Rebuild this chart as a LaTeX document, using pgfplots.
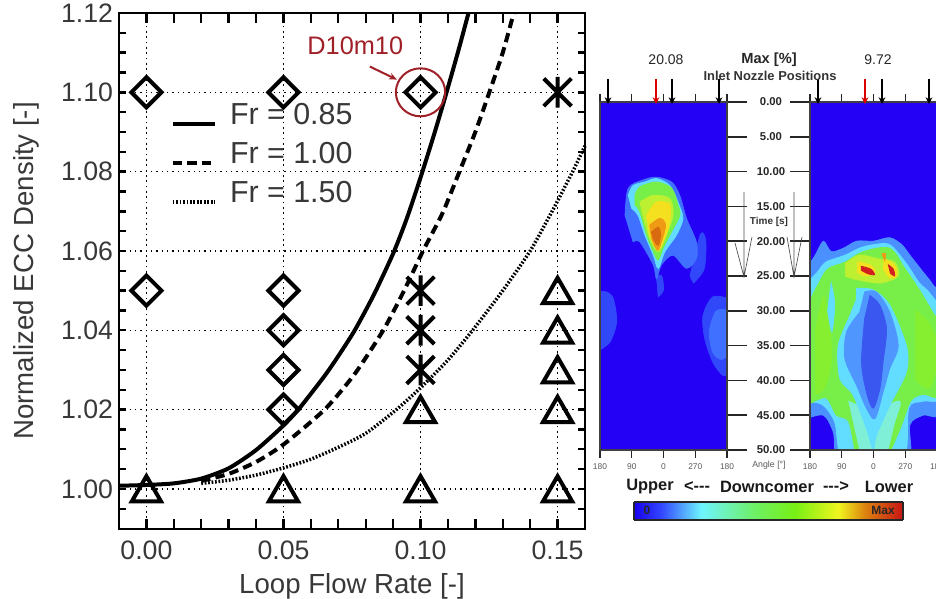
\documentclass[border=0pt]{standalone}
\usepackage{fontspec}
\setmainfont{Liberation Sans}
\usepackage{pgfplots}
\pgfplotsset{compat=1.18}
\usetikzlibrary{arrows.meta,plotmarks}
\definecolor{dred}{HTML}{A02028}
\definecolor{tgray}{HTML}{383838}
\definecolor{hbg}{HTML}{2400F4}
\definecolor{hHalo}{HTML}{3F70FF}
\definecolor{hHaloD}{HTML}{3048FA}
\definecolor{hHaloL}{HTML}{4A90FF}
\definecolor{hCyan}{HTML}{62DCFF}
\definecolor{hCyanG}{HTML}{7FEFD8}
\definecolor{hGreen}{HTML}{78EE48}
\definecolor{hGreenB}{HTML}{86F030}
\definecolor{hGY}{HTML}{BDF030}
\definecolor{hYel}{HTML}{F5E020}
\definecolor{hOr}{HTML}{EE9A15}
\definecolor{hOrD}{HTML}{D86A10}
\definecolor{hRed}{HTML}{D02020}
\definecolor{hCore}{HTML}{3A58F0}
\definecolor{hLB}{HTML}{5096FF}
\pgfdeclareplotmark{myast}{%
  \pgfpathmoveto{\pgfqpoint{0pt}{\pgfplotmarksize}}\pgfpathlineto{\pgfqpoint{0pt}{-\pgfplotmarksize}}%
  \pgfpathmoveto{\pgfqpoint{0.9\pgfplotmarksize}{0.9\pgfplotmarksize}}\pgfpathlineto{\pgfqpoint{-0.9\pgfplotmarksize}{-0.9\pgfplotmarksize}}%
  \pgfpathmoveto{\pgfqpoint{-0.9\pgfplotmarksize}{0.9\pgfplotmarksize}}\pgfpathlineto{\pgfqpoint{0.9\pgfplotmarksize}{-0.9\pgfplotmarksize}}%
  \pgfusepathqstroke}
\pgfplotsset{
  colormap={hm}{rgb255(0pt)=(24,0,240); rgb255(10pt)=(50,70,255); rgb255(25pt)=(110,245,255); rgb255(45pt)=(110,240,100); rgb255(60pt)=(120,240,20); rgb255(76pt)=(240,245,30); rgb255(86pt)=(220,130,15); rgb255(100pt)=(200,20,20)},
  heat/.style={
    scale only axis, width=95.25pt, height=261pt,
    xmin=0,xmax=360,ymin=0,ymax=50,y dir=reverse,
    axis on top, clip=true,
    axis line style={line width=1pt,color=black!75},
    axis background/.style={fill=hbg},
    xtick={0,90,180,270,360},
    minor xtick={0,90,180,270,360},
    xticklabels={180,90,0,270,180},
    ytick={0,5,...,50},
    tick align=outside,
    major tick length=15pt,
    minor tick length=6pt,
    tick style={black!85,line width=1.1pt},
    x tick style={draw=none},
    minor x tick style={draw=black!85,line width=1.1pt},
    xticklabel style={font=\fontsize{6.3}{7}\selectfont\color{black!65},yshift=8pt},
  },
  frame/.style={
    at={(89.25pt,52.8pt)},anchor=south west,
    scale only axis,width=349.5pt,height=386.7pt,
    xmin=-0.01,xmax=0.16,ymin=0.99,ymax=1.12,
  },
}
\newcommand{\hp}[2]{\addplot[draw=#1,line width=.6pt,fill=#1,smooth,forget plot] coordinates {#2} --cycle;}
\begin{document}
\begin{tikzpicture}
\path[use as bounding box] (0,0) rectangle (702pt,449.25pt);
\clip (0,0) rectangle (702pt,449.25pt);

% ---------- grid of the main chart
\begin{axis}[frame,
  xtick={0,0.05,0.10,0.15},
  ytick={1.00,1.02,1.04,1.06,1.08,1.10,1.12},
  xticklabels={},yticklabels={},
  major tick length=0pt,
  axis line style={draw=none},
  grid=major,
  major grid style={black,line width=1.1pt,dash pattern=on 1.1pt off 2.9pt},
]
\end{axis}

% ---------- main chart
\begin{axis}[frame,
  xtick={0,0.05,0.10,0.15},
  ytick={1.00,1.02,1.04,1.06,1.08,1.10,1.12},
  tick align=inside,
  axis on top,
  major tick length=0pt,
  axis line style={line width=1.5pt,black},
  /pgf/number format/assume math mode=true,
  /pgf/number format/fixed,/pgf/number format/fixed zerofill,/pgf/number format/precision=2,
  ticklabel style={font=\fontsize{20}{24}\selectfont,text=tgray},
  xticklabel style={yshift=-6pt},
  yticklabel style={xshift=-1pt},
  xlabel={Loop Flow Rate [-]},
  ylabel={Normalized ECC Density [-]},
  every axis x label/.style={at={(axis description cs:0.5,0)},anchor=center,yshift=-43.5pt,font=\fontsize{20.7}{24}\selectfont,text=tgray},
  every axis y label/.style={at={(axis description cs:0,0.5)},anchor=center,xshift=-69.5pt,rotate=90,font=\fontsize{20.7}{24}\selectfont,text=tgray},
  clip=false,
  legend cell align=left,
  legend style={at={(axis cs:0.0,1.101)},anchor=north west,draw=none,fill=none,
    font=\fontsize{22.8}{26}\selectfont,text=tgray,row sep=8pt,inner sep=0pt,xshift=18pt,yshift=-9pt,
    /tikz/column 1/.style={column sep=7.5pt}},
  legend image code/.code={\draw[#1,line cap=butt] (0pt,-6.5pt) -- (32pt,-6.5pt);},
  restrict x to domain=-0.01:0.16,
]
\addplot[black,line width=3pt,smooth,tension=0.4] table {
x y
-0.01 1.0008
0 1.0010
0.01 1.0014
0.02 1.0026
0.03 1.0052
0.04 1.0098
0.05 1.0160
0.056 1.0205
0.065 1.0285
0.07 1.0335
0.076 1.04
0.083 1.049
0.0901 1.0595
0.095 1.0682
0.10 1.0785
0.105 1.0895
0.1095 1.10
0.114 1.111
0.1175 1.12
};
\addlegendentry{Fr = 0.85}
\addplot[black,line width=3pt,dash pattern=on 7pt off 4pt,smooth,tension=0.4] table {
x y
0.02 1.0020
0.03 1.0038
0.04 1.0068
0.05 1.0112
0.065 1.02
0.076 1.029
0.0864 1.04
0.094 1.05
0.1009 1.06
0.108 1.0695
0.1142 1.08
0.12 1.09
0.1251 1.10
0.13 1.11
0.134 1.12
};
\addlegendentry{Fr = 1.00}
\addplot[black,line width=2.6pt,dash pattern=on 1.3pt off 1.3pt,smooth,tension=0.4] table {
x y
0.02 1.0014
0.03 1.0022
0.04 1.0035
0.05 1.0053
0.06 1.0075
0.07 1.0105
0.08 1.014
0.0912 1.02
0.10 1.0255
0.11 1.0325
0.119 1.04
0.13 1.05
0.14 1.06
0.148 1.07
0.1555 1.08
0.16 1.0865
};
\addlegendentry{Fr = 1.50}
\addplot[only marks,forget plot,mark=square,mark size=8pt,
  mark options={rotate=45,draw=black,fill=none,line width=3pt}] coordinates {
(0,1.10)(0.05,1.10)(0.10,1.10)(0,1.05)(0.05,1.05)(0.05,1.04)(0.05,1.03)(0.05,1.02)};
\addplot[only marks,forget plot,mark=myast,mark size=11.5pt,
  mark options={draw=black,line width=3pt}] coordinates {
(0.15,1.10)(0.10,1.05)(0.10,1.04)(0.10,1.03)};
\addplot[only marks,forget plot,mark=triangle,mark size=12.6pt,
  mark options={draw=black,fill=none,line width=3pt,yshift=-3pt}] coordinates {
(0,1.00)(0.05,1.00)(0.10,1.00)(0.15,1.00)(0.10,1.02)(0.15,1.02)(0.15,1.03)(0.15,1.04)(0.15,1.05)};
\pgfplotsinvokeforeach{-0.01,0.00,0.01,0.02,0.03,0.04,0.05,0.06,0.07,0.08,0.09,0.10,0.11,0.12,0.13,0.14,0.15,0.16}{
  \draw[black,line width=1.8pt] (axis cs:#1,0.99) -- (axis cs:#1,0.9925);
  \draw[black,line width=1.8pt] (axis cs:#1,1.12) -- (axis cs:#1,1.1175);
}
\pgfplotsinvokeforeach{0.995,1.000,1.005,1.010,1.015,1.020,1.025,1.030,1.035,1.040,1.045,1.050,1.055,1.060,1.065,1.070,1.075,1.080,1.085,1.090,1.095,1.100,1.105,1.110,1.115}{
  \draw[black,line width=1.8pt] (axis cs:-0.01,#1) -- (axis cs:-0.0075,#1);
  \draw[black,line width=1.8pt] (axis cs:0.16,#1) -- (axis cs:0.1575,#1);
}
\draw[dred,line width=1.5pt] (axis cs:0.10,1.10) ellipse [x radius=18.5pt,y radius=18pt];
\draw[dred,line width=1.5pt,-{Stealth[length=6pt,width=5pt]}] (axis cs:0.0815,1.1065) -- (axis cs:0.0914,1.1032);
\node[text=dred,font=\fontsize{19}{21}\selectfont] at (axis cs:0.0762,1.1118) {D10m10};
\end{axis}

% ---------- left heat panel
\begin{axis}[heat,at={(450pt,111.75pt)},anchor=south west,
  ytick pos=right,yticklabel pos=right,
  /pgf/number format/assume math mode=true,
  /pgf/number format/fixed,/pgf/number format/fixed zerofill,/pgf/number format/precision=2,
  yticklabel style={font=\fontsize{8.5}{9}\selectfont\bfseries,text=black!85,anchor=center,xshift=18pt},
]
\hp{hHaloD}{(-10,35.9)(28,34.5)(47,31.6)(38,28.3)(19,27.3)(-10,27.3)}
\hp{hHaloD}{(370,28.3)(320,28.0)(292,30.7)(297,34)(320,37.4)(349,39.3)(370,38.8)}
\hp{hHalo}{(370,30)(330,30)(310,33)(320,36)(345,37)(370,36)}
\hp{hHaloD}{(160,25)(175,25)(180,27)(165,28)}
\hp{hHaloD}{(255,25)(285,19)(300,20)(295,24)(265,26)}
\hp{hHalo}{(71,16.3)(80,12.4)(122,11.2)(160,10.8)(203,11.5)(226,13.4)(245,16.7)(273,20.1)(273,22.5)(245,23.9)(207,22)(174,23.4)(160,25.4)(151,23.4)(113,20.1)(94,20.1)}
\hp{hCyan}{(80,13.4)(94,12)(127,11.5)(160,11)(198,12)(221,14.4)(235,16.7)(217,19.1)(184,21.5)(165,23.9)(151,22)(127,19.1)(108,16.3)(90,15.3)}
\hp{hGreen}{(99,13.4)(113,12.2)(160,11.5)(203,12.4)(221,14.8)(226,16.3)(198,19.1)(179,21)(165,22.7)(151,21.5)(132,19.1)(113,15.8)(99,14.8)}
\hp{hGY}{(113,14.4)(151,13.4)(198,13.9)(207,16.3)(188,19.1)(165,21.5)(141,19.6)(122,16.3)}
\hp{hYel}{(132,16.3)(160,14.4)(198,14.8)(193,18.2)(165,21.3)(141,19.1)}
\hp{hOr}{(141,17.7)(170,16.7)(186,17.7)(174,20.1)(163,21.3)(146,19.6)}
\hp{hOrD}{(146,18.7)(165,18)(172,19)(165,20.6)(152,19.8)}
\end{axis}

% ---------- right heat panel
\begin{axis}[heat,at={(607.5pt,111.75pt)},anchor=south west,
  ytick pos=left,yticklabels={},
]
\hp{hHaloL}{(-10,23.9)(15,22)(38,20)(60,21.5)(95,21)(132,20)(180,20)(226,19.5)(260,20.5)(283,22)(320,24.4)(349,26.3)(375,29)(375,44)(320,45)(283,46.4)(273,52)(90,52)(66,47.4)(38,45)(-10,45.5)}
\hp{hCyan}{(-10,26)(20,24.5)(45,23)(100,22)(140,21)(180,20.5)(226,20.5)(270,23)(310,26)(340,27.5)(375,31)(375,42)(320,43)(280,44)(260,52)(100,52)(70,46)(35,43.5)(-10,43)}
\hp{hGreen}{(-5,29)(20,26.5)(50,24)(100,23)(150,21.5)(226,21)(270,24)(310,27)(345,30)(375,33)(375,42)(320,42)(285,43)(255,47)(205,52)(140,52)(110,46)(75,45)(45,42.5)(-5,43.5)}
\hp{hGreenB}{(15,33)(40,28)(62,36)(42,41)(15,42)}
\hp{hGreenB}{(300,30)(340,32)(365,36)(340,41)(300,40)}
\hp{hCyanG}{(110,43)(160,44)(200,44)(255,43)(240,46)(205,52)(150,52)}
\hp{hCyan}{(132,26.8)(179,27)(226,29.2)(273,35)(273,38.8)(226,43.6)(188,47.9)(179,50)(160,46.9)(122,42.1)(85,39.8)(80,35)(113,30.7)(132,28.3)}
\hp{hCyan}{(60,26)(70,29)(62,33)(50,30)}
\hp{hLB}{(155,27.3)(188,27.3)(226,30.2)(250,35)(226,38.3)(207,41.7)(184,45.5)(160,44)(132,40.7)(99,36.9)(104,33)(141,30.2)}
\hp{hCore}{(170,27.8)(198,29.2)(217,32.6)(207,37.4)(198,41.2)(179,44)(160,41.7)(146,37.4)(155,31.1)}
\hp{hGY}{(100,23.2)(140,22)(190,22.5)(240,23)(250,25)(200,26)(130,25.5)(100,25)}
\hp{hYel}{(135,23)(170,23.4)(185,24.4)(160,25)(135,24.5)}
\hp{hYel}{(210,22.5)(240,23.5)(245,25)(225,25.2)(208,24)}
\hp{hRed}{(145,23.6)(172,24)(183,24.8)(165,24.7)(146,24.2)}
\hp{hRed}{(222,23.4)(236,24)(240,25)(228,24.6)}
\hp{hOr}{(204,21.8)(214,21.8)(212,22.8)}
\end{axis}

% ---------- colour bar
\begin{axis}[at={(475.5pt,59.25pt)},anchor=south west,scale only axis,width=201.75pt,height=13.5pt,
  xmin=0,xmax=100,ymin=0,ymax=1,ticks=none,view={0}{90},colormap name=hm,
  axis line style={line width=1.1pt,black!85},axis on top]
\addplot3[surf,shader=interp,point meta=x] coordinates {
(0,0,0)(100,0,0)

(0,1,0)(100,1,0)
};
\end{axis}

% ---------- texts around the heat panels
\begin{scope}[x=0.75pt,y=-0.75pt,yshift=449.25pt]
\foreach \x in {608,672,719,818,882,929}{
  \draw[black,line width=1pt,-{Stealth[length=5pt,width=5pt]}] (\x,79) -- (\x,104);}
\foreach \x in {656,865}{
  \draw[red!85!black,line width=1pt,-{Stealth[length=5pt,width=5pt]}] (\x,79) -- (\x,104);}
\draw[black!70,line width=.5pt] (744,192) -- (744,277) (735,243)--(744,277)--(752,237);
\draw[black!70,line width=.5pt] (794,192) -- (794,277) (787,237)--(794,277)--(802,237);
\node[font=\fontsize{10.5}{12}\selectfont,text=black!85] at (666,60) {20.08};
\node[font=\fontsize{10.5}{12}\selectfont,text=black!85] at (878,60) {9.72};
\node[font=\fontsize{11}{12}\selectfont\bfseries,text=black!85] at (769,60) {Max [\%]};
\node[font=\fontsize{9.7}{11}\selectfont\bfseries,text=black!80] at (770,76) {Inlet Nozzle Positions};
\node[font=\fontsize{7.5}{8}\selectfont\bfseries,text=black!80] at (769,222) {Time [s]};
\node[font=\fontsize{6.6}{7}\selectfont,text=black!65] at (769,465) {Angle [°]};
\node[font=\fontsize{12.3}{14}\selectfont\bfseries,text=black!90] at (650,487) {Upper};
\node[font=\fontsize{12.3}{14}\selectfont\bfseries,text=black!90] at (697,487) {<-{}-{}-};
\node[font=\fontsize{12.3}{14}\selectfont\bfseries,text=black!90] at (767,487) {Downcomer};
\node[font=\fontsize{12.3}{14}\selectfont\bfseries,text=black!90] at (836,487) {-{}-{}->};
\node[font=\fontsize{12.3}{14}\selectfont\bfseries,text=black!90] at (889,487) {Lower};
\node[font=\fontsize{9}{10}\selectfont\bfseries,text=black!85] at (647,510) {0};
\node[font=\fontsize{9}{10}\selectfont\bfseries,text=black!85] at (883,510) {Max};
\end{scope}
\end{tikzpicture}
\end{document}
